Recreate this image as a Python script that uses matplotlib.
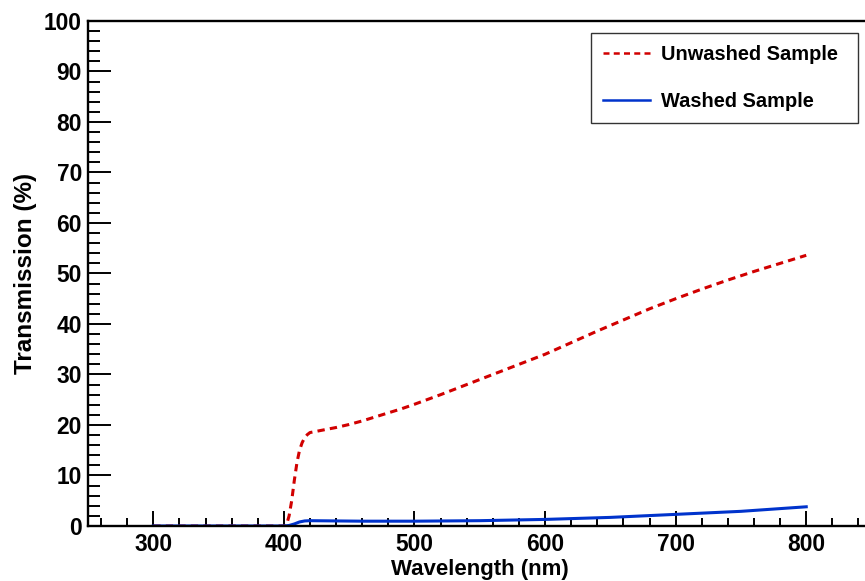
import matplotlib
matplotlib.use("Agg")
import matplotlib.pyplot as plt
from matplotlib.ticker import MultipleLocator

# Transmission spectra (wavelength in nm, transmission in %)
wl_unwashed = [300, 350, 400, 402, 404, 406, 408, 410, 412, 414, 416, 418, 420,
               430, 440, 450, 460, 470, 480, 490, 500, 520, 540, 560, 580, 600,
               620, 640, 660, 680, 700, 720, 740, 760, 780, 800]
t_unwashed = [0.0, 0.0, 0.0, 0.2, 2.0, 5.0, 9.0, 12.5, 15.0, 16.5, 17.5, 18.1, 18.5,
              19.0, 19.5, 20.1, 20.8, 21.6, 22.4, 23.2, 24.1, 26.0, 28.0, 30.0, 32.0, 34.0,
              36.3, 38.6, 40.8, 43.0, 45.0, 46.9, 48.7, 50.4, 52.0, 53.6]

wl_washed = [300, 350, 400, 404, 408, 412, 416, 420, 440, 460, 480, 500,
             550, 600, 650, 700, 750, 800]
t_washed = [0.0, 0.0, 0.0, 0.1, 0.4, 0.8, 1.0, 1.05, 1.0, 0.95, 0.95, 0.95,
            1.05, 1.3, 1.7, 2.3, 2.9, 3.8]

labels = ["Unwashed Sample", "Washed Sample"]

plt.rcParams['font.family'] = ['Liberation Sans', 'DejaVu Sans']
plt.rcParams['font.weight'] = 'bold'

fig = plt.figure(figsize=(8.65, 5.81), dpi=100)
ax = fig.add_axes([0.1017, 0.0947, 0.8983, 0.8692])

ax.plot(wl_unwashed, t_unwashed, color='#d10000', lw=2.2, ls=(0, (2.4, 1.7)),
        label=labels[0])
ax.plot(wl_washed, t_washed, color='#0033cc', lw=2.2, label=labels[1])

ax.set_xlim(250, 845)
ax.set_ylim(0, 100)

ax.xaxis.set_major_locator(MultipleLocator(100))
ax.xaxis.set_minor_locator(MultipleLocator(20))
ax.yaxis.set_major_locator(MultipleLocator(10))
ax.yaxis.set_minor_locator(MultipleLocator(2))

ax.tick_params(axis='both', which='both', direction='in', width=1.4,
               labelsize=16.4, top=False, right=False)
ax.tick_params(axis='x', which='major', length=10.8, pad=5.2)
ax.tick_params(axis='x', which='minor', length=6)
ax.tick_params(axis='y', which='major', length=16.5, pad=4.3)
ax.tick_params(axis='y', which='minor', length=8.6)

for lab in ax.get_xticklabels() + ax.get_yticklabels():
    lab.set_fontweight('bold')

for side in ('left', 'bottom', 'top'):
    ax.spines[side].set_linewidth(1.7)
ax.spines['right'].set_visible(False)

ax.set_xlabel("Wavelength (nm)", fontsize=16, fontweight='bold')
ax.set_ylabel("Transmission (%)", fontsize=17.5, fontweight='bold')
ax.xaxis.set_label_coords(0.505, -0.0645)
ax.yaxis.set_label_coords(-0.0656, 0.5)

leg = ax.legend(loc='upper left', bbox_to_anchor=(0.647, 0.796, 0.3443, 0.18),
                mode='expand', fontsize=14.4,
                frameon=True, fancybox=False, edgecolor='black',
                borderpad=0.6, labelspacing=1.42, handlelength=2.35,
                handletextpad=0.55, borderaxespad=0)
leg.get_frame().set_linewidth(1.0)
for line in leg.get_lines():
    line.set_linewidth(1.8)
for t in leg.get_texts():
    t.set_fontweight('bold')

fig.savefig("out.png", dpi=100)
